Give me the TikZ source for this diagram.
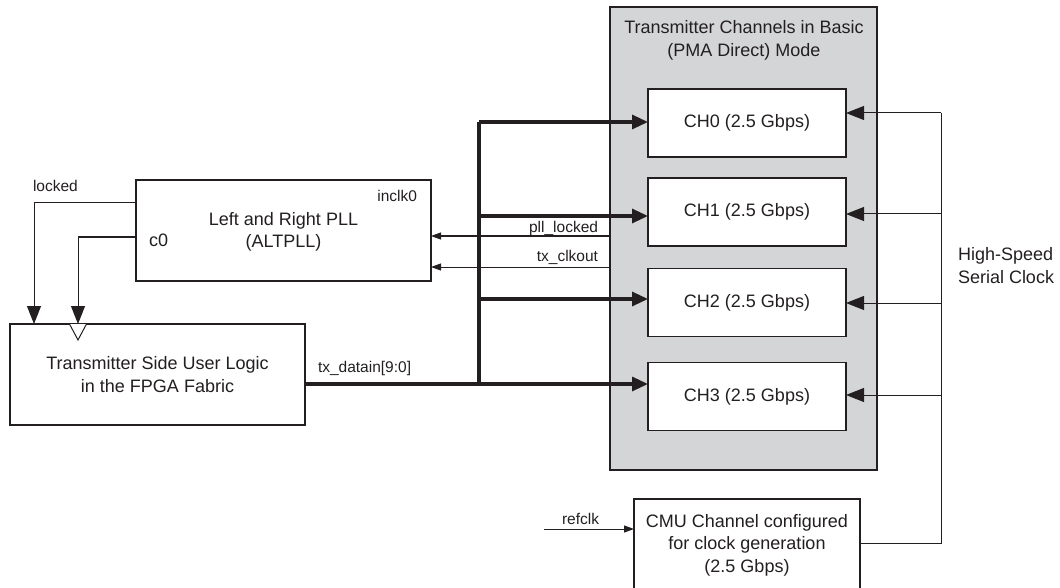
\documentclass[tikz,border=0pt]{standalone}
\usepackage{fontspec}
\setmainfont{Liberation Sans}
\usetikzlibrary{arrows.meta}
\definecolor{ink}{HTML}{231F20}
\definecolor{panel}{HTML}{D4D5D7}
\begin{document}
\begin{tikzpicture}[x=1pt,y=-1pt,
  every node/.style={inner sep=0pt,outer sep=0pt,text=ink},
  big/.style={font=\fontsize{18}{22.5}\selectfont,align=center},
  small/.style={font=\fontsize{15.5}{18}\selectfont},
  box/.style={draw=ink,line width=1.2pt,fill=white,big},
  chbox/.style={box,minimum width=198pt,minimum height=68pt},
  wire/.style={draw=ink,line width=1pt},
  bus/.style={draw=ink,line width=3.2pt},
  bigtip/.style={-{Triangle[length=18pt,width=14pt]}},
  bustip/.style={-{Triangle[length=16pt,width=14pt]}},
  smalltip/.style={-{Triangle[length=10pt,width=7pt]}}]
\useasboundingbox (0,0) rectangle (1060,588);
\clip (0,0) rectangle (1060,588);
% gray panel
\node[draw=ink,line width=1.2pt,fill=panel,minimum width=267pt,minimum height=463pt] (panel) at (743.5,238.5) {};
\node[big] (ptitle) at (744,40.5) {Transmitter Channels in Basic\\(PMA Direct) Mode};
% channels
\node[chbox] (ch0) at (747,123) {CH0 (2.5 Gbps)};
\node[chbox] (ch1) at (747,212) {CH1 (2.5 Gbps)};
\node[chbox] (ch2) at (747,302.5) {CH2 (2.5 Gbps)};
\node[chbox] (ch3) at (747,396.5) {CH3 (2.5 Gbps)};
% PLL
\node[box,minimum width=295pt,minimum height=101pt] (pll) at (283.5,230.5) {};
\node[big] (plltxt) at (283.5,232) {Left and Right PLL\\(ALTPLL)};
\node[small,anchor=base east] (inclk) at (417,202) {inclk0};
\node[big,anchor=base west] (c0) at (149,246) {c0};
% user logic
\node[box,minimum width=295pt,minimum height=101pt] (user) at (157.5,374.5) {Transmitter Side User Logic\\in the FPGA Fabric};
% CMU
\node[box,minimum width=226pt,minimum height=92pt] (cmu) at (747,545) {CMU Channel configured\\for clock generation\\(2.5 Gbps)};
% coordinates
\coordinate (j) at (479,384);
\coordinate (j0) at (479,122);
\coordinate (j1) at (479,216);
\coordinate (j2) at (479,299);
\coordinate (hs) at (941,113);
\coordinate (lk) at (34,203);
\coordinate (ck) at (78,237);
\coordinate (pl) at (610,236);
\coordinate (tc) at (610,267);
\coordinate (rc) at (544,529);
% thick data bus
\draw[bus] (user.east |- j) -- (j);
\draw[bus] (j) -- (j0);
\draw[bus,bustip] (j) -- (ch3.west |- j);
\draw[bus,bustip] (j0) -- (ch0.west |- j0);
\draw[bus,bustip] (j1) -- (ch1.west |- j1);
\draw[bus,bustip] (j2) -- (ch2.west |- j2);
\node[small,anchor=base west] (txd) at (318,372) {tx\_datain[9:0]};
% pll feedback
\draw[wire,smalltip] (pl) -- (pll.east |- pl);
\draw[wire,smalltip] (tc) -- (pll.east |- tc);
\node[small,anchor=base east] (pllk) at (598,233) {pll\_locked};
\node[small,anchor=base east] (txc) at (598,261) {tx\_clkout};
% locked / c0
\draw[wire,bigtip] (pll.west |- lk) -| (user.north -| lk);
\draw[wire,bigtip] (pll.west |- ck) -| (user.north -| ck);
\node[small,anchor=base west] (lockedlbl) at (33,192) {locked};
\draw[draw=ink,line width=1pt,fill=white] (69.5,324) -- (78,340) -- (86.5,324);
% high speed serial clock
\draw[wire] (cmu.east |- 0,543) -| (hs);
\draw[wire,bigtip] (hs) -- (ch0.east |- hs);
\draw[wire,bigtip] (941,214) -- (ch1.east |- 0,214);
\draw[wire,bigtip] (941,303) -- (ch2.east |- 0,303);
\draw[wire,bigtip] (941,395) -- (ch3.east |- 0,395);
\node[big,anchor=base west,align=left] (hsl) at (958,283) {High-Speed\\Serial Clock};
% refclk
\draw[wire,smalltip] (rc) -- (cmu.west |- rc);
\node[small,anchor=base west] (refl) at (562,524) {refclk};
\end{tikzpicture}
\end{document}
